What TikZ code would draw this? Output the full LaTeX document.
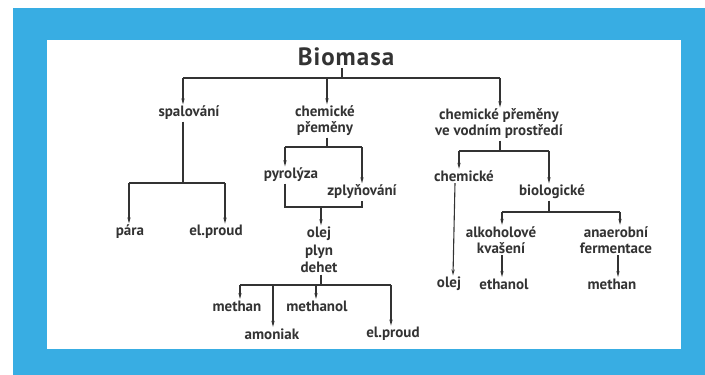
\documentclass[tikz,border=0pt]{standalone}
\usepackage{fontspec}
\setmainfont{PT Sans}
\usetikzlibrary{arrows.meta}
\definecolor{frameblue}{HTML}{38ADE3}
\definecolor{ink}{HTML}{333333}
\begin{document}
\begin{tikzpicture}[x=1pt,y=-1pt,
  lbl/.style={text=ink,font=\bfseries\fontsize{15}{16}\selectfont,align=center,inner sep=1.5pt},
  ln/.style={draw=ink,line width=1.1pt},
  arr/.style={ln,-{Stealth[length=6pt,width=3.2pt]}}]
\useasboundingbox (0,0) rectangle (705,375);
\fill[white] (0,0) rectangle (705,375);
\fill[frameblue] (13,8) rectangle (705,375);
\fill[white] (47,40) rectangle (681,349);
% nodes
\node[lbl,font=\bfseries\fontsize{25}{28}\selectfont] (bio) at (346,57) {B\kern1pt i\kern1pt o\kern1pt m\kern1pt a\kern1pt s\kern1pt a};
\node[lbl] (spal) at (189,113) {spalování};
\node[lbl] (chem) at (325,121) {chemické\\přeměny};
\node[lbl] (voda) at (499,124) {chemické přeměny\\ve vodním prostředí};
\node[lbl] (para) at (130,232) {pára};
\node[lbl] (elp1) at (216,232) {el.proud};
\node[lbl] (pyr) at (291,175) {pyrolýza};
\node[lbl] (zply) at (362,192) {zplyňování};
\node[lbl,font=\bfseries\fontsize{15}{17.5}\selectfont] (olej) at (319,250) {olej\\plyn\\dehet};
\node[lbl] (meth1) at (237,306) {methan};
\node[lbl] (metol) at (317,306) {methanol};
\node[lbl] (amon) at (272,334) {amoniak};
\node[lbl] (elp2) at (393,334) {el.proud};
\node[lbl] (chemR) at (464,176) {chemické};
\node[lbl] (biol) at (552,192) {biologické};
\node[lbl] (alk) at (501,240) {alkoholové\\kvašení};
\node[lbl] (ana) at (616,240) {anaerobní\\fermentace};
\node[lbl] (olejR) at (449,284) {olej};
\node[lbl] (eth) at (504,284) {ethanol};
\node[lbl] (meth2) at (612,284) {methan};
% junctions
\coordinate (j1) at (342,78);
\coordinate (j1L) at (183,78);
\coordinate (j1M) at (327,78);
\coordinate (j1R) at (500,78);
\coordinate (j2) at (183,183);
\coordinate (j2L) at (129,183);
\coordinate (j2R) at (225,183);
\coordinate (j3) at (327,147);
\coordinate (j3L) at (285,147);
\coordinate (j3R) at (362,147);
\coordinate (j4L) at (285,207);
\coordinate (j4R) at (362,207);
\coordinate (j4) at (321,207);
\coordinate (j5) at (321,285);
\coordinate (j5A) at (240,285);
\coordinate (j5B) at (273,285);
\coordinate (j5C) at (316,285);
\coordinate (j5D) at (391,285);
\coordinate (j6) at (500,151);
\coordinate (j6L) at (459,151);
\coordinate (j6R) at (549,151);
\coordinate (j7) at (549,212);
\coordinate (j7L) at (502,212);
\coordinate (j7R) at (620,212);
\coordinate (j8) at (618,212);
\coordinate (c1) at (455,186);
\coordinate (c2) at (453,274);
% connectors
\draw[ln] (j1 |- bio.south) -- (j1);
\draw[ln] (j1L) -- (j1R);
\draw[arr] (j1L) -- (j1L |- spal.north);
\draw[arr] (j1M) -- (j1M |- chem.north);
\draw[arr] (j1R) -- (j1R |- voda.north);
\draw[ln] (j2 |- spal.south) -- (j2);
\draw[ln] (j2L) -- (j2R);
\draw[arr] (j2L) -- (j2L |- para.north);
\draw[arr] (j2R) -- (j2R |- elp1.north);
\draw[ln] (j3 |- chem.south) -- (j3);
\draw[ln] (j3L) -- (j3R);
\draw[arr] (j3L) -- (j3L |- pyr.north);
\draw[arr] (j3R) -- (j3R |- zply.north);
\draw[ln] (j4L |- pyr.south) -- (j4L) -- (j4R) -- (j4R |- zply.south);
\draw[arr] (j4) -- (j4 |- olej.north);
\draw[ln] (j5 |- olej.south) -- (j5);
\draw[ln] (j5A) -- (j5D);
\draw[arr] (j5A) -- (j5A |- meth1.north);
\draw[arr] (j5B) -- (j5B |- amon.north);
\draw[arr] (j5C) -- (j5C |- metol.north);
\draw[arr] (j5D) -- (j5D |- elp2.north);
\draw[ln] (j6 |- voda.south) -- (j6);
\draw[ln] (j6L) -- (j6R);
\draw[arr] (j6L) -- (j6L |- chemR.north);
\draw[arr] (j6R) -- (j6R |- biol.north);
\draw[arr] (c1 |- chemR.south) -- (c2 |- olejR.north);
\draw[ln] (j7 |- biol.south) -- (j7);
\draw[ln] (j7L) -- (j7R);
\draw[arr] (j7L) -- (j7L |- alk.north);
\draw[arr] (j7R) -- (j7R |- ana.north);
\draw[arr] (j7L |- alk.south) -- (j7L |- eth.north);
\draw[arr] (j8 |- ana.south) -- (j8 |- meth2.north);
\end{tikzpicture}
\end{document}
